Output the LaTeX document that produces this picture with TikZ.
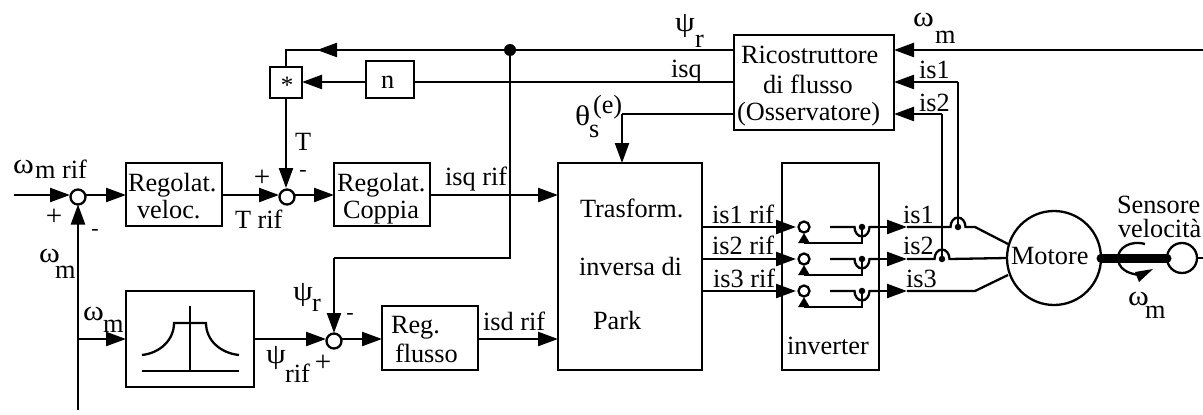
\documentclass[tikz,border=0pt]{standalone}
\usepackage{graphicx}
\usepackage{fontspec}
\setmainfont{Liberation Serif}
\usetikzlibrary{arrows.meta}
\tikzset{x=1pt,y=-1pt,
  wire/.style={line width=2.3pt},
  sig/.style={wire,-{Triangle[length=20pt,width=14pt]}},
  sigs/.style={wire,-{Triangle[length=10pt,width=11pt]}},
  blockbox/.style={draw,line width=2.3pt,inner sep=0pt,outer sep=0pt},
  sumc/.style={draw,circle,line width=2.3pt,inner sep=0pt,outer sep=0pt,minimum size=15pt,fill=white},
  tinyc/.style={draw,circle,line width=2.3pt,inner sep=0pt,outer sep=0pt,minimum size=11pt},
  lab/.style={inner sep=0pt,outer sep=0pt,anchor=base west,font=\fontsize{26.3}{28}\selectfont},
  signlab/.style={inner sep=0pt,font=\fontsize{29}{31}\selectfont},
  minuslab/.style={inner sep=0pt,font=\fontsize{22}{24}\selectfont},
  jdot/.style={circle,fill=black,inner sep=0pt,minimum size=6.5pt}}
\newcommand{\bx}[5]{\node[blockbox,minimum width=#3 pt-#1 pt,minimum height=#4 pt-#2 pt] (#5) at ({(#1+#3)/2},{(#2+#4)/2}) {};}
\newcommand{\lb}[4]{\node[lab] (#1) at (#2,#3) {#4};}
\newcommand{\sg}[4]{\node[signlab] (#1) at (#2,#3) {#4};}
\newcommand{\mn}[3]{\node[minuslab] (#1) at (#2,#3) {-};}
\newcommand{\gk}[1]{\scalebox{1.2}[1.08]{#1}}
\begin{document}
\begin{tikzpicture}
\useasboundingbox (0,0) rectangle (1203,415);
% blocks
\bx{126}{163}{222}{226}{rv}
\bx{334}{163}{430}{226}{rc}
\bx{734}{35}{894}{130}{ric}
\bx{270}{67}{302}{98}{mul}
\bx{366}{61}{414}{98}{nb}
\bx{126}{291}{254}{387}{filt}
\bx{382}{306}{478}{370}{rf}
\bx{558}{163}{702}{370}{tr}
\bx{782}{163}{879}{370}{inv}
\node[sumc] (s1) at (78,197) {};
\node[sumc] (s2) at (287,197) {};
\node[sumc] (s3) at (334,341) {};
\node[draw,circle,line width=2.3pt,minimum size=94pt,inner sep=0pt,outer sep=0pt] (mot) at (1054,258) {};
\node[draw,circle,line width=2.3pt,minimum size=30pt,inner sep=0pt,outer sep=0pt] (sen) at (1182,258) {};
% named points
\coordinate (a) at (0,195);
\coordinate (b) at (0,339);
\coordinate (in1) at (14,195);
\coordinate (bot) at (78,410);
\coordinate (jm) at (78,339);
\coordinate (c1) at (286,50);
\coordinate (c2) at (334,258);
\coordinate (c3) at (510,258);
\coordinate (th) at (622,114);
\coordinate (rgt) at (1203,50);
\coordinate (w1) at (958,82);
\coordinate (w2) at (942,114);
% main wires
\draw[sig] (in1) -- (70,195);
\draw[sig] (86,195) -- (rv.west|-a);
\draw[sig] (bot) -- (s1.south);
\draw[sig] (rv.east|-a) -- (279,195);
\draw[sig] (295,195) -- (rc.west|-a);
\draw[sig] (rc.east|-a) -- (tr.west|-a);
\draw[sig] (jm) -- (filt.west|-b);
\draw[sig] (filt.east|-b) -- (326,339);
\draw[sig] (342,339) -- (rf.west|-b);
\draw[sig] (rf.east|-b) -- (tr.west|-b);
% top feedback
\node[jdot,minimum width=12pt,minimum height=9pt] (j1) at (510,50) {};
\draw[wire] (ric.west|-c1) -- (c1) -- (mul.north-|c1);
\draw[sig] (j1) -- (317,50);
\draw[sig] (mul.south-|c1) -- (286,188);
\draw[wire] (ric.west|-w1) -- (nb.east|-w1);
\draw[sig] (nb.west|-w1) -- (mul.east|-w1);
\draw[wire] (j1) -- (c3) -- (c2);
\draw[sig] (c2) -- (334,333);
\draw[wire] (ric.west|-th) -- (th);
\draw[sig] (th) -- (tr.north-|th);
\draw[sig] (rgt) -- (ric.east|-rgt);
\draw[sig] (w1) -- (ric.east|-w1);
\draw[sig] (w2) -- (ric.east|-w2);
% inverter legs
\foreach \n/\y/\z in {1/227/243,2/259/275,3/291/307}{
  \coordinate (o\n) at (702,\y);
  \node[tinyc] (sw\n) at (804,\y) {};
  \node[jdot] (d\n) at (862,\y) {};
  \draw[sig] (o\n) -- (796,\y);
  \draw[wire] (830,\y) -- (854.5,\y) arc[start angle=180,end angle=0,x radius=7.5,y radius=9.5] -- (880,\y);
  \draw[sig] (869.5,\y) -- (907,\y);
  \draw[wire] (d\n) -- (862,\z) -- (804,\z);
  \draw[sigs] (804,\z) -- (804,233+\y-227);
}
\node[jdot] (d4) at (958,227) {};
\node[jdot] (d5) at (942,259) {};
\draw[wire] (w1) -- (d4);
\draw[wire] (w2) -- (d5);
\draw[wire] (907,227) -- (950.5,227) arc[start angle=180,end angle=360,x radius=7.5,y radius=9.5] -- (975,227) -- (1008,244);
\draw[wire] (907,259) -- (934.5,259) arc[start angle=180,end angle=360,x radius=7.5,y radius=9.5] -- (mot.west);
\draw[wire] (907,291) -- (975,291) -- (1008,275);
% shaft and rotation
\draw[line width=9pt,line cap=round] (1101,258) -- (1167,258);
\draw[wire] (sen.east) -- (1203,258);
\draw[wire] (1145,244) .. controls (1130,240) and (1118,248) .. (1118,258) .. controls (1118,268) and (1127,274) .. (1140,275);
\fill (1153,269) -- (1135,272) -- (1139,282) -- cycle;
% filter icon
\draw[wire] (190,306) -- (190,371);
\draw[wire] (142,371) -- (239,371);
\draw[wire] (142,355) .. controls (160,353) and (174,340) .. (174,323) -- (206,323) .. controls (206,340) and (220,353) .. (239,355);
% block text
\lb{t01}{128}{191}{Regolat.}
\lb{t02}{137}{218}{veloc.}
\lb{t03}{337}{191}{Regolat.}
\lb{t04}{343}{218}{Coppia}
\lb{t05}{741}{63}{Ricostruttore}
\lb{t06}{763}{93}{di flusso}
\lb{t07}{737}{120}{(Osservatore)}
\node[inner sep=0pt,font=\fontsize{25}{27}\selectfont] (t08) at (287,85) {*};
\lb{t09}{381}{88}{n}
\lb{t10}{391}{333}{Reg.}
\lb{t11}{395}{362}{flusso}
\lb{t12}{580}{217}{Trasform.}
\lb{t13}{579}{275}{inversa di}
\lb{t14}{593}{329}{Park}
\lb{t15}{787}{354}{inverter}
\lb{t16}{1011}{264}{Motore}
\lb{t17}{1117}{213}{Sensore}
\lb{t18}{1118}{237}{velocità}
% signal labels
\lb{l01}{13}{173}{\gk{ω}}
\lb{l02}{35}{178}{m rif}
\sg{l03}{54}{217}{+}
\mn{l04}{95}{232}
\lb{l05}{39}{262}{\gk{ω}}
\lb{l06}{55}{278}{m}
\lb{l07}{83}{320}{\gk{ω}}
\lb{l08}{103}{332}{m}
\lb{l09}{266}{363}{\gk{ψ}}
\lb{l10}{285}{382}{rif}
\sg{l11}{323}{363}{+}
\lb{l12}{293}{300}{\gk{ψ}}
\lb{l13}{312}{311}{r}
\mn{l14}{350}{316}
\sg{l15}{262}{178}{+}
\mn{l16}{303}{173}
\lb{l17}{235}{228}{T rif}
\lb{l18}{295}{150}{T}
\lb{l19}{445}{185}{isq rif}
\lb{l20}{483}{330}{isd rif}
\lb{l21}{712}{223}{is1 rif}
\lb{l22}{712}{254}{is2 rif}
\lb{l23}{713}{287}{is3 rif}
\lb{l24}{903}{223}{is1}
\lb{l25}{903}{254}{is2}
\lb{l26}{906}{287}{is3}
\lb{l27}{1128}{305}{\gk{ω}}
\lb{l28}{1145}{318}{m}
\lb{l29}{675}{31}{\gk{ψ}}
\lb{l30}{695}{47}{r}
\lb{l31}{671}{77}{isq}
\lb{l32}{575}{125}{\gk{θ}}
\lb{l33}{589}{137}{s}
\lb{l34}{593}{113}{(e)}
\lb{l35}{913}{27}{\gk{ω}}
\lb{l36}{935}{43}{m}
\lb{l37}{919}{78}{is1}
\lb{l38}{919}{111}{is2}
\end{tikzpicture}
\end{document}
